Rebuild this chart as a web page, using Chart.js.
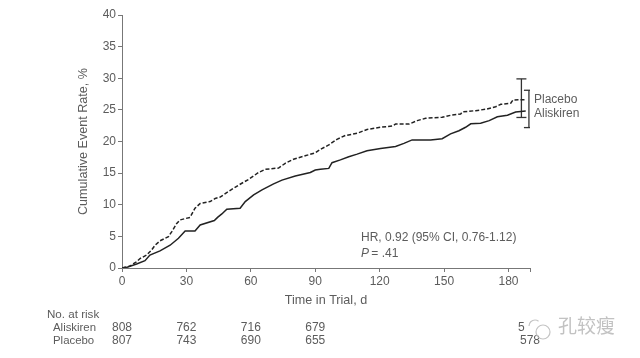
<!DOCTYPE html>
<html><head><meta charset="utf-8">
<style>html,body{margin:0;padding:0;background:#fff}#w{position:relative;width:640px;height:358px}canvas{position:absolute;left:0;top:0}</style>
<script src="https://cdn.jsdelivr.net/npm/chart.js@4"></script></head>
<body><div id="w"><canvas id="c" width="640" height="358"></canvas></div>
<script>
const xTicks=[0,30,60,90,120,150,180,190];
const placeboDays=[0,3.7,6.8,8.4,11.5,13.8,15.4,17.7,21.6,23.2,25.5,27,31.7,34,36.4,41,43.4,45.7,49.6,54.3,58.9,63.6,66.7,72.9,76,79.9,85.3,90,92.4,96.3,100.1,104,109.5,114.1,120.4,125.8,127.4,133.6,137.5,141.4,149.1,153.8,157.7,158.5,164.7,169.4,174,176.4,181,182.1,188];
const placeboRate=[0,0.3,1.0,1.5,2.05,2.85,3.6,4.3,4.95,5.75,7.05,7.6,8.0,9.45,10.2,10.5,11.0,11.2,12.1,13.1,14.0,15.1,15.6,15.8,16.55,17.2,17.75,18.2,18.75,19.45,20.35,20.95,21.3,21.9,22.25,22.45,22.75,22.75,23.3,23.67,23.83,24.2,24.35,24.67,24.88,25.1,25.5,25.88,26.04,26.57,26.6];
const aliskirenDays=[0,2.2,6.8,10.7,13,17.7,22.4,26.3,29.4,34,36.4,43,44.5,46.5,48.8,55,57.4,61.3,65.2,70.6,74.5,80.7,87.7,90,92.4,96.3,97.8,101.7,105.6,109.5,114.1,120.4,127.4,131.3,135.1,143.7,149.1,153,156.9,160,162.4,167,171,174.8,179.5,183.3,188];
const aliskirenRate=[0,0.1,0.63,1.16,2.05,2.7,3.6,4.7,5.85,5.85,6.8,7.5,8.0,8.55,9.3,9.45,10.5,11.55,12.35,13.3,13.9,14.55,15.1,15.5,15.6,15.75,16.65,17.1,17.6,18.0,18.55,18.9,19.2,19.7,20.25,20.25,20.45,21.2,21.7,22.25,22.8,22.9,23.3,23.9,24.15,24.67,24.83];
const placeboCI=[{x:186,y:23.8},{x:186,y:29.9}];
const aliskirenCI=[{x:189.5,y:22.2},{x:189.5,y:28.1}];
const riskRows=[["Aliskiren","808","762","716","679"],["Placebo","807","743","690","655"]];
const zip=(a,b)=>a.map((x,i)=>({x,y:b[i]}));
const F='"Liberation Sans",Arial,sans-serif', G='#5c5c5c';
const overlay={id:'overlay',afterDraw(ch){
  const c=ch.ctx,X=ch.scales.x;
  c.save();c.fillStyle=G;c.font='12px '+F;c.textBaseline='middle';c.textAlign='left';
  c.fillText('Placebo',534,100);c.fillText('Aliskiren',534,114);
  c.fillText('HR, 0.92 (95% CI, 0.76-1.12)',361,238);
  c.font='italic 12px '+F;c.fillText('P',361,254);c.font='12px '+F;c.fillText(' = .41',368,254);
  c.font='11.6px '+F;c.textAlign='left';c.fillText('No. at risk',47,315);
  riskRows.forEach((r,i)=>{const y=328+i*12.5;
    c.font='11.4px '+F;c.textAlign='left';c.fillText(r[0],53,y);
    c.font='12px '+F;c.textAlign='center';
    r.slice(1).forEach((v,j)=>c.fillText(v,X.getPixelForValue(xTicks[j]),y));});
  c.textAlign='center';c.fillText('578',X.getPixelForValue(190),340.5);
  c.textAlign='left';c.fillText('5',518,328);
  // watermark
  c.strokeStyle='#c4c4c4';c.lineWidth=1.2;c.beginPath();c.arc(543,332,7,0,Math.PI*2);c.stroke();
  c.beginPath();c.arc(535,326,6,Math.PI,Math.PI*1.7);c.stroke();
  c.fillStyle='#c2c2c2';c.font='19px "Noto Sans CJK SC"';c.textAlign='left';c.fillText('孔较瘦',558,326);
  c.restore();
}};
const tickFont={family:F,size:12};
const titleFont={family:F,size:12.6};
new Chart(document.getElementById('c'),{type:'scatter',plugins:[overlay],
 data:{datasets:[
  {label:'Placebo',data:zip(placeboDays,placeboRate),showLine:true,borderColor:'#222',borderWidth:1.5,borderDash:[4,2],pointRadius:0},
  {label:'Aliskiren',data:zip(aliskirenDays,aliskirenRate),showLine:true,borderColor:'#222',borderWidth:1.5,pointRadius:0},
  {label:'Placebo CI',data:placeboCI,showLine:true,borderColor:'#333',borderWidth:1.3,pointStyle:'line',pointRadius:5,pointBorderColor:'#333',pointBorderWidth:1.3},
  {label:'Aliskiren CI',data:aliskirenCI,showLine:true,borderColor:'#333',borderWidth:1.3,pointStyle:'line',pointRadius:5,pointBorderColor:'#333',pointBorderWidth:1.3}
 ]},
 options:{responsive:false,animation:false,
  layout:{padding:{left:72,top:15,right:110,bottom:48}},
  plugins:{legend:{display:false},tooltip:{enabled:false}},
  scales:{
   x:{type:'linear',min:0,max:190,position:'bottom',afterBuildTicks(s){s.ticks=xTicks.map(v=>({value:v}));},
     afterFit(s){s.height=42;},
     title:{display:true,text:'Time in Trial, d',color:G,font:titleFont,padding:{top:2,bottom:2}},
     grid:{drawOnChartArea:false,drawTicks:true,tickLength:4,color:'#777'},border:{color:'#777'},
     ticks:{color:G,font:tickFont,padding:2,autoSkip:false,maxRotation:0,callback:v=>v===190?'':v}},
   y:{min:0,max:40,afterFit(s){s.width=50;},
     title:{display:true,text:'Cumulative Event Rate, %',color:G,font:titleFont,padding:{top:4,bottom:0}},
     grid:{drawOnChartArea:false,drawTicks:true,tickLength:4,color:'#777'},border:{color:'#777'},
     ticks:{color:G,font:tickFont,padding:2,stepSize:5}}
  }}
});
</script></body></html>
